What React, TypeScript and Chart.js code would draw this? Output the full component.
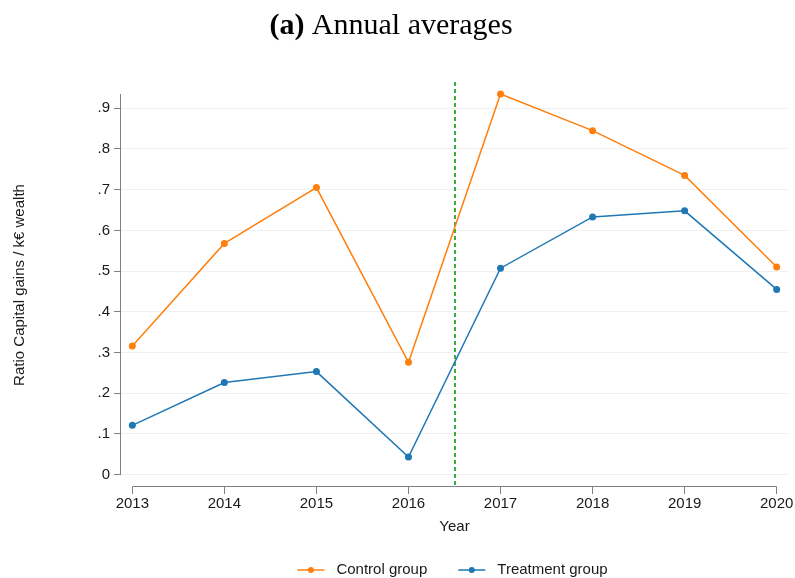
import React, { useEffect, useRef } from "react";
import { Chart, registerables } from "chart.js";

Chart.register(...registerables);

// Survey years and group means of capital gains per thousand euros of wealth
const years = [2013, 2014, 2015, 2016, 2017, 2018, 2019, 2020];
const controlGroup = [0.316, 0.568, 0.705, 0.276, 0.935, 0.845, 0.735, 0.51];
const treatmentGroup = [0.121, 0.226, 0.253, 0.043, 0.507, 0.633, 0.648, 0.455];
const yTicks = [0, 0.1, 0.2, 0.3, 0.4, 0.5, 0.6, 0.7, 0.8, 0.9];
const reformYear = 2016.5;

const seriesNames = ["Control group", "Treatment group"];
const seriesColors = ["#ff7f0e", "#1f77b4"];

const titleBold = "(a)";
const titleRest = " Annual averages";
const yTitle = "Ratio Capital gains / k\u20ac wealth";
const xTitle = "Year";

const SANS = "'Liberation Sans', Arial, Helvetica, sans-serif";
const SERIF = "'Liberation Serif', 'Times New Roman', serif";
const AXIS_GRAY = "#7f7f7f";
const TEXT = "#1a1a1a";

const decorations = {
  id: "decorations",
  beforeDatasetsDraw(chart: any) {
    const { ctx, chartArea } = chart;
    const xs = chart.scales.x;
    const ys = chart.scales.y;
    ctx.save();
    // policy change marker
    const xr = Math.round(xs.getPixelForValue(reformYear));
    ctx.strokeStyle = "#0c9a0c";
    ctx.lineWidth = 1.6;
    ctx.setLineDash([4, 3]);
    ctx.beginPath();
    ctx.moveTo(xr, chartArea.top - 12);
    ctx.lineTo(xr, chartArea.bottom);
    ctx.stroke();
    ctx.setLineDash([]);

    // axis lines spanning only the data range
    ctx.strokeStyle = AXIS_GRAY;
    ctx.lineWidth = 1;
    const ax = Math.round(chartArea.left) - 0.5;
    ctx.beginPath();
    ctx.moveTo(ax, ys.getPixelForValue(0));
    ctx.lineTo(ax, ys.getPixelForValue(ys.max));
    ctx.stroke();
    const ay = Math.round(chartArea.bottom) - 0.5;
    ctx.beginPath();
    ctx.moveTo(xs.getPixelForValue(years[0]), ay);
    ctx.lineTo(xs.getPixelForValue(years[years.length - 1]), ay);
    ctx.stroke();
    ctx.restore();
  },
  afterDraw(chart: any) {
    const { ctx, chartArea } = chart;
    ctx.save();
    ctx.fillStyle = "#000";
    ctx.textBaseline = "alphabetic";

    // title with bold panel letter
    ctx.font = `bold 30px ${SERIF}`;
    const wb = ctx.measureText(titleBold).width;
    ctx.font = `30px ${SERIF}`;
    const wr = ctx.measureText(titleRest).width;
    const tx = 391 - (wb + wr) / 2;
    ctx.font = `bold 30px ${SERIF}`;
    ctx.fillText(titleBold, tx, 34);
    ctx.font = `30px ${SERIF}`;
    ctx.fillText(titleRest, tx + wb, 34);

    // axis titles
    ctx.fillStyle = TEXT;
    ctx.font = `15px ${SANS}`;
    ctx.textAlign = "center";
    ctx.textBaseline = "middle";
    const cx = (chartArea.left + chartArea.right) / 2;
    ctx.fillText(xTitle, cx, 527);
    ctx.save();
    ctx.translate(20, 285);
    ctx.rotate(-Math.PI / 2);
    ctx.fillText(yTitle, 0, 0);
    ctx.restore();

    // legend: line with marker, then label
    ctx.textAlign = "left";
    const lineLen = 27;
    const textGap = 12;
    const itemGap = 31;
    const widths = seriesNames.map((n) => lineLen + textGap + ctx.measureText(n).width);
    const total = widths.reduce((a, b) => a + b, 0) + itemGap * (seriesNames.length - 1);
    let lx = cx - total / 2 - 2;
    const ly = 570;
    seriesNames.forEach((name, i) => {
      ctx.strokeStyle = seriesColors[i];
      ctx.fillStyle = seriesColors[i];
      ctx.lineWidth = 1.5;
      ctx.beginPath();
      ctx.moveTo(lx, ly);
      ctx.lineTo(lx + lineLen, ly);
      ctx.stroke();
      ctx.beginPath();
      ctx.arc(lx + lineLen / 2, ly, 3, 0, Math.PI * 2);
      ctx.fill();
      ctx.fillStyle = TEXT;
      ctx.fillText(name, lx + lineLen + textGap, ly);
      lx += widths[i] + itemGap;
    });
    ctx.restore();
  },
};

export default function App() {
  const ref = useRef<HTMLCanvasElement>(null);

  useEffect(() => {
    document.body.style.margin = "0";
    const canvas = ref.current;
    if (!canvas) return;
    const yMax = Math.max(...controlGroup, ...treatmentGroup);
    const chart = new Chart(canvas, {
      type: "line",
      data: {
        datasets: [controlGroup, treatmentGroup].map((vals, i) => ({
          label: seriesNames[i],
          data: vals.map((v, j) => ({ x: years[j], y: v })),
          borderColor: seriesColors[i],
          backgroundColor: seriesColors[i],
          borderWidth: 1.5,
          pointRadius: 3.5,
          pointHoverRadius: 3.5,
          pointBorderWidth: 0,
          tension: 0,
          clip: false as any,
        })),
      },
      options: {
        responsive: false,
        animation: false,
        events: [],
        layout: { padding: { top: 94, right: 7, bottom: 61, left: 0 } },
        plugins: {
          legend: { display: false },
          title: { display: false },
          tooltip: { enabled: false },
        },
        scales: {
          x: {
            type: "linear",
            min: years[0] - 0.123,
            max: years[years.length - 1] + 0.123,
            afterBuildTicks: (scale: any) => {
              scale.ticks = years.map((v) => ({ value: v }));
            },
            afterFit: (scale: any) => {
              scale.height = 30;
            },
            ticks: {
              callback: (v: any) => String(v),
              font: { family: SANS, size: 15 },
              color: TEXT,
              padding: 1,
              maxRotation: 0,
              autoSkip: false,
            },
            grid: {
              display: true,
              drawOnChartArea: false,
              drawTicks: true,
              tickLength: 7,
              tickColor: AXIS_GRAY,
            },
            border: { display: false },
          },
          y: {
            type: "linear",
            min: -0.0305,
            max: yMax,
            afterBuildTicks: (scale: any) => {
              scale.ticks = yTicks.map((v) => ({ value: v }));
            },
            afterFit: (scale: any) => {
              scale.width = 121;
            },
            ticks: {
              callback: (v: any) => (v === 0 ? "0" : "." + Math.round(v * 10)),
              font: { family: SANS, size: 15 },
              color: TEXT,
              padding: 4,
              autoSkip: false,
            },
            grid: {
              color: "#f0f0f0",
              lineWidth: 1,
              drawTicks: true,
              tickLength: 7,
              tickColor: AXIS_GRAY,
            },
            border: { display: false },
          },
        },
      },
      plugins: [decorations],
    });
    return () => chart.destroy();
  }, []);

  return (
    <div style={{ width: 795, height: 578, background: "#fff" }}>
      <canvas ref={ref} width={795} height={578} />
    </div>
  );
}
